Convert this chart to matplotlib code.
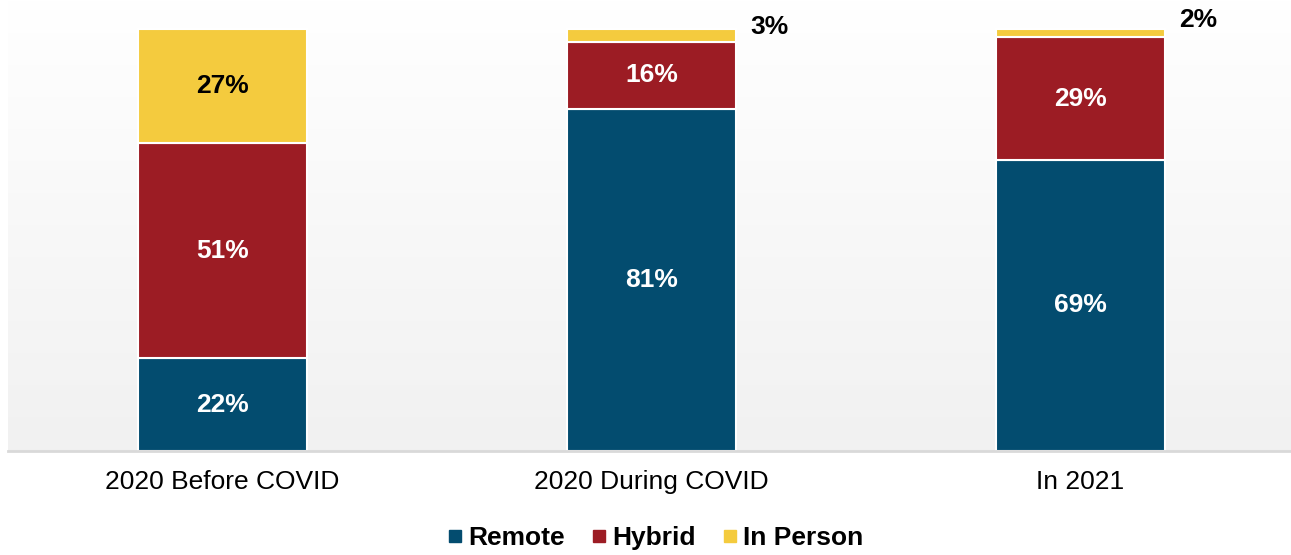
import matplotlib
matplotlib.use("Agg")
import matplotlib.pyplot as plt
import numpy as np
from matplotlib.lines import Line2D

plt.rcParams['font.family'] = ['Liberation Sans', 'DejaVu Sans']

categories = ["2020 Before COVID", "2020 During COVID", "In 2021"]
remote = [22, 81, 69]
hybrid = [51, 16, 29]
in_person = [27, 3, 2]
series_names = ["Remote", "Hybrid", "In Person"]
colors = ["#034C6F", "#9C1C24", "#F4CB3E"]

W, H = 1291, 555
fig = plt.figure(figsize=(W / 100, H / 100), dpi=100)
ax = fig.add_axes([8 / W, (H - 451) / H, 1287 / W, 451 / H])

# gradient background
grad = np.linspace(0, 1, 256).reshape(-1, 1)
top = np.array([1.0, 1.0, 1.0])
bot = np.array([0.945, 0.945, 0.945])
img = top * (1 - grad[..., None]) + bot * grad[..., None]
ax.imshow(img, extent=[0, 1, 0, 1], transform=ax.transAxes, aspect='auto', zorder=0)

x = np.arange(len(categories))
width = 0.394
bottoms = np.zeros(len(categories))
series = [remote, hybrid, in_person]
for vals, name, col in zip(series, series_names, colors):
    vals = np.array(vals, dtype=float)
    ax.bar(x, vals, width, bottom=bottoms, color=col, edgecolor='white',
           linewidth=1.5, zorder=2, label=name)
    for xi, b, v in zip(x, bottoms, vals):
        txt = f"{int(v)}%"
        if v >= 10:
            tc = 'black' if col == colors[2] else 'white'
            ax.text(xi, b + v / 2, txt, ha='center', va='center', color=tc,
                    fontsize=19, fontweight='bold', zorder=3)
        else:
            ax.annotate(txt, xy=(xi + width / 2, b + v), xytext=(14, 2 if v >= 3 else 9),
                        textcoords='offset pixels', ha='left', va='center',
                        fontsize=19, fontweight='bold', color='black', zorder=3,
                        annotation_clip=False)
    bottoms = bottoms + vals

ax.set_xlim(-0.5, 2.5)
ax.set_ylim(0, 451 / 422 * 100)
ax.set_xticks(x)
ax.set_xticklabels(categories, fontsize=19)
ax.tick_params(axis='x', length=0, pad=14)
ax.set_yticks([])
for s in ['top', 'right', 'left']:
    ax.spines[s].set_visible(False)
ax.spines['bottom'].set_color('#d9d9d9')
ax.spines['bottom'].set_linewidth(2)
ax.spines['bottom'].set_zorder(4)

handles = [Line2D([], [], marker='s', linestyle='none', markersize=8,
                  markerfacecolor=c, markeredgecolor=c) for c in colors]
fig.legend(handles, series_names, loc='center', ncol=3,
           bbox_to_anchor=(656 / W, 1 - 538 / H), frameon=False,
           prop={'size': 19, 'weight': 'bold'}, handlelength=0.5,
           handletextpad=0.25, columnspacing=1.05)

fig.savefig("out.png", dpi=100)
